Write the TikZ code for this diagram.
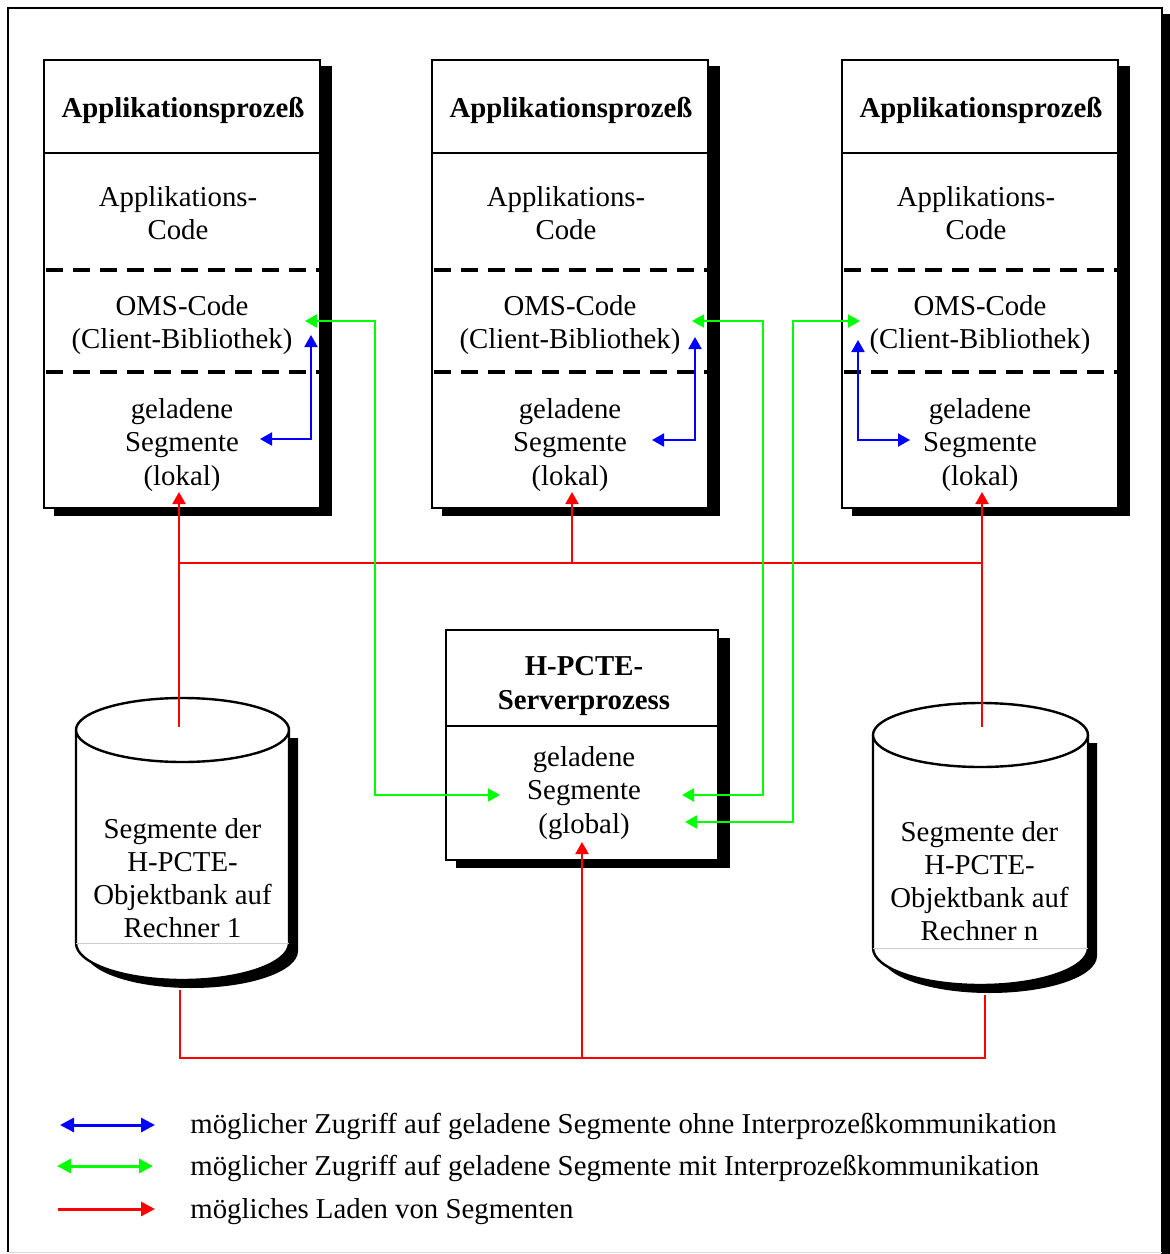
\documentclass[tikz,border=0pt]{standalone}
\usepackage{fontspec}
\setmainfont{Liberation Serif}
\usepackage{tikz}
\usetikzlibrary{calc}
\usetikzlibrary{arrows.meta}
\usepackage{xcolor}
\definecolor{myGreen}{rgb}{0,1,0}
\definecolor{myBlue}{rgb}{0,0,1}
\definecolor{myRed}{rgb}{1,0,0}
\tikzset{
  boxline/.style={line width=1pt, black},
  sepline/.style={line width=1.6pt, black, dash pattern=on 8.5pt off 5pt},
  txt/.style={align=center, inner sep=0pt, font=\fontsize{14.4}{16.6}\selectfont},
  titletxt/.style={txt, font=\fontsize{14.4}{17}\selectfont\bfseries},
  tip/.style={-{Triangle[length=6pt,width=6.5pt]}},
  dtip/.style={{Triangle[length=6pt,width=6.5pt]}-{Triangle[length=6pt,width=6.5pt]}},
  redline/.style={myRed, line width=1pt},
  greenline/.style={myGreen, line width=1pt},
  blueline/.style={myBlue, line width=1pt},
  legline/.style={line width=1.5pt},
  legtip/.style={-{Triangle[length=7pt,width=7pt]}},
  legdtip/.style={{Triangle[length=7pt,width=7pt]}-{Triangle[length=7pt,width=7pt]}},
}

\begin{document}
\begin{tikzpicture}[x=0.5pt, y=-0.5pt]
\useasboundingbox (0,0) rectangle (1169,1254);

%%%%%%%%%%%%%%%%%%%%%%%%%%%%%%%%%%%%%%%%%%%%%%%%%%%%%%%%%%%%%% Frame
\fill[black] (1161,14) rectangle (1175,1260);
\draw[boxline] (8,1252) -- (8,8) -- (1162,8) -- (1162,1252);
\draw[gray!30] (8,1252) -- (1162,1252);

%%%%%%%%%%%%%%%%%%%%%%%%%%%%%%%%%%%%%%%%%%%%%%%%%%%%%%%%%%%%%% Applikationsprozesse
\foreach \n/\x in {1/44, 2/432, 3/842} {
  \coordinate (A\n) at (\x,60);
  \fill[black] ($(A\n)+(10,6)$) rectangle ($(A\n)+(288,456)$);
  \draw[boxline, fill=white] (A\n) rectangle ($(A\n)+(276,448)$);
  \draw[boxline] ($(A\n)+(0,93)$) -- ($(A\n)+(276,93)$);
  \draw[sepline] ($(A\n)+(2,210)$) -- ($(A\n)+(276,210)$);
  \draw[sepline] ($(A\n)+(2,312)$) -- ($(A\n)+(276,312)$);
  \node[titletxt] (title\n) at ($(A\n)+(139,50)$) {Applikationsprozeß};
  \node[txt] (code\n) at ($(A\n)+(134,153)$) {Applikations-\\Code};
  \node[txt] (oms\n) at ($(A\n)+(138,265)$) {OMS-Code\\(Client-Bibliothek)};
  \node[txt] (lokal\n) at ($(A\n)+(138,385)$) {geladene\\Segmente\\(lokal)};
}

%%%%%%%%%%%%%%%%%%%%%%%%%%%%%%%%%%%%%%%%%%%%%%%%%%%%%%%%%%%%%% Serverprozess
\coordinate (S) at (446,630);
\fill[black] ($(S)+(10,8)$) rectangle ($(S)+(284,238)$);
\draw[boxline, fill=white] (S) rectangle ($(S)+(272,230)$);
\draw[boxline] ($(S)+(0,96)$) -- ($(S)+(272,96)$);
\node[titletxt] (server) at ($(S)+(138,56)$) {H-PCTE-\\Serverprozess};
\node[txt] (global) at ($(S)+(138,163)$) {geladene\\Segmente\\(global)};

%%%%%%%%%%%%%%%%%%%%%%%%%%%%%%%%%%%%%%%%%%%%%%%%%%%%%%%%%%%%%% Objektbanken
% Rechner 1
\coordinate (D1) at (182.5,730);
\fill[black] ($(D1)+(-97.5,8)$) -- ($(D1)+(115.5,8)$) -- ($(D1)+(115.5,221)$)
  arc[start angle=0, end angle=180, x radius=106.5, y radius=37] -- cycle;
\draw[line width=1.2pt, fill=white] ($(D1)+(-106.5,0)$) -- ($(D1)+(-106.5,213)$)
  arc[start angle=180, end angle=0, x radius=106.5, y radius=37] -- ($(D1)+(106.5,0)$);
\draw[gray!40] ($(D1)+(-106.5,213)$) -- ($(D1)+(106.5,213)$);
\draw[line width=1.2pt, fill=white] (D1) ellipse [x radius=106.5, y radius=32];
\node[txt] (bank1) at ($(D1)+(0,148)$) {Segmente der\\H-PCTE-\\Objektbank auf\\Rechner 1};

% Rechner n
\coordinate (D2) at (980.5,735);
\fill[black] ($(D2)+(-98.5,8)$) -- ($(D2)+(116.5,8)$) -- ($(D2)+(116.5,221)$)
  arc[start angle=0, end angle=180, x radius=107.5, y radius=37] -- cycle;
\draw[line width=1.2pt, fill=white] ($(D2)+(-107.5,0)$) -- ($(D2)+(-107.5,213)$)
  arc[start angle=180, end angle=0, x radius=107.5, y radius=37] -- ($(D2)+(107.5,0)$);
\draw[gray!40] ($(D2)+(-107.5,213)$) -- ($(D2)+(107.5,213)$);
\draw[line width=1.2pt, fill=white] (D2) ellipse [x radius=107.5, y radius=32];
\node[txt] (bankn) at ($(D2)+(-1,146)$) {Segmente der\\H-PCTE-\\Objektbank auf\\Rechner n};

%%%%%%%%%%%%%%%%%%%%%%%%%%%%%%%%%%%%%%%%%%%%%%%%%%%%%%%%%%%%%% Laden (rot)
\coordinate (r1) at (179,727);
\coordinate (r2) at (572,563);
\coordinate (r3) at (982,727);
\coordinate (l1) at (179,492);
\coordinate (l2) at (572,492);
\coordinate (l3) at (982,492);
\draw[redline, tip] (r1) -- (l1);
\draw[redline, tip] (r2) -- (l2);
\draw[redline, tip] (r3) -- (l3);
\draw[redline] (r1 |- r2) -- (r3 |- r2);

\coordinate (b1) at (180,990);
\coordinate (b2) at (985,995);
\coordinate (bm) at (582,1058);
\coordinate (g0) at (582,842);
\draw[redline] (b1) |- (bm) -| (b2);
\draw[redline, tip] (bm) -- (g0);

%%%%%%%%%%%%%%%%%%%%%%%%%%%%%%%%%%%%%%%%%%%%%%%%%%%%%%%%%%%%%% Zugriff mit IPC (gruen)
\coordinate (o1) at (305,321);
\coordinate (o2) at (692,321);
\coordinate (o3) at (860,321);
\coordinate (s1) at (500,795);
\coordinate (s2) at (682,795);
\coordinate (s3) at (685,822);
\draw[greenline, dtip] (o1) -- ++(70,0) |- (s1);
\draw[greenline, dtip] (o2) -- ++(71,0) |- (s2);
\draw[greenline, dtip] (o3) -- ++(-67,0) |- (s3);

%%%%%%%%%%%%%%%%%%%%%%%%%%%%%%%%%%%%%%%%%%%%%%%%%%%%%%%%%%%%%% Zugriff ohne IPC (blau)
\coordinate (u1) at (311,335);
\coordinate (u2) at (695,337);
\coordinate (u3) at (858,340);
\coordinate (v1) at (260,439);
\coordinate (v2) at (652,440);
\coordinate (v3) at (910,440);
\draw[blueline, dtip] (u1) |- (v1);
\draw[blueline, dtip] (u2) |- (v2);
\draw[blueline, dtip] (u3) |- (v3);

%%%%%%%%%%%%%%%%%%%%%%%%%%%%%%%%%%%%%%%%%%%%%%%%%%%%%%%%%%%%%% Legende
\coordinate (kb1) at (60,1125);
\coordinate (kb2) at (155,1125);
\coordinate (kg1) at (57,1166);
\coordinate (kg2) at (153,1166);
\coordinate (kr1) at (58,1209);
\coordinate (kr2) at (155,1209);
\draw[legline, myBlue, legdtip] (kb1) -- (kb2);
\draw[legline, myGreen, legdtip] (kg1) -- (kg2);
\draw[legline, myRed, legtip] (kr1) -- (kr2);
\node[txt, anchor=base west] (leg1) at (190,1133) {möglicher Zugriff auf geladene Segmente ohne Interprozeßkommunikation};
\node[txt, anchor=base west] (leg2) at (190,1175) {möglicher Zugriff auf geladene Segmente mit Interprozeßkommunikation};
\node[txt, anchor=base west] (leg3) at (190,1218) {mögliches Laden von Segmenten};

\end{tikzpicture}
\end{document}
